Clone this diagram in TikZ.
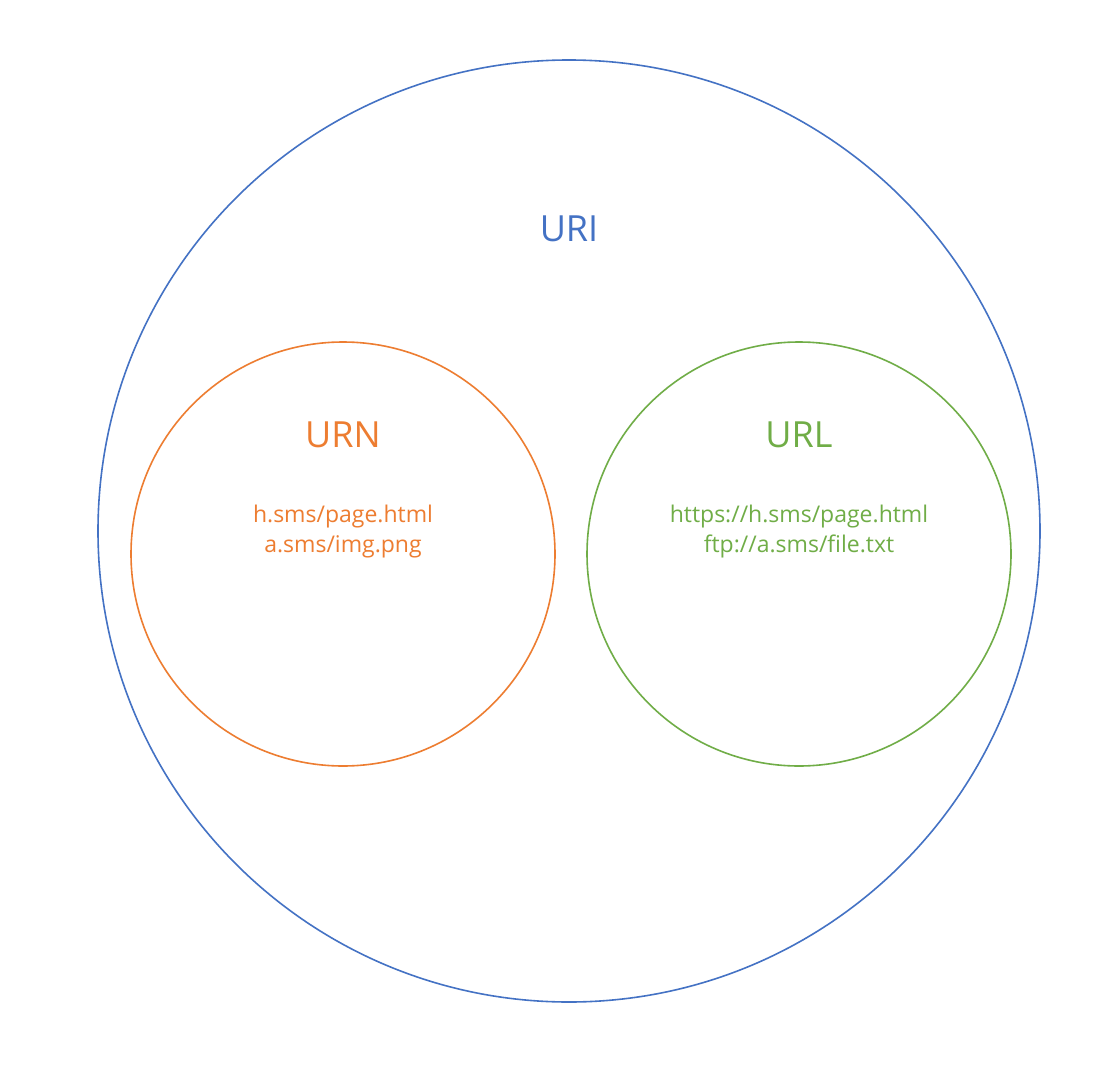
\documentclass[tikz,border=0pt]{standalone}
\usepackage{fontspec}
\setmainfont{Open Sans}
\definecolor{uriblue}{HTML}{4472C4}
\definecolor{urnorange}{HTML}{ED7D31}
\definecolor{urlgreen}{HTML}{70AD47}
\begin{document}
\begin{tikzpicture}[x=1pt,y=-1pt,
  ring/.style={draw, circle, line width=1.6pt, inner sep=0pt},
  title/.style={font=\fontsize{36}{42}\selectfont},
  items/.style={font=\fontsize{23}{30}\selectfont, align=center}]
\useasboundingbox (0,0) rectangle (1119,1065);
\fill[white] (0,0) rectangle (1119,1065);
\node[ring, uriblue, minimum size=942pt] (uri) at (569,531) {};
\node[ring, urnorange, minimum size=424pt] (urn) at (343,554) {};
\node[ring, urlgreen, minimum size=424pt] (url) at (799,554) {};
\node[title, text=uriblue] (urit) at (569,229) {URI};
\node[title, text=urnorange] (urnt) at (343,435) {URN};
\node[title, text=urlgreen] (urlt) at (799,435) {URL};
\node[items, text=urnorange] (urni) at (343,532) {h.sms/page.html\\a.sms/img.png};
\node[items, text=urlgreen] (urli) at (799,532) {https://h.sms/page.html\\ftp://a.sms/file.txt};
\end{tikzpicture}
\end{document}
